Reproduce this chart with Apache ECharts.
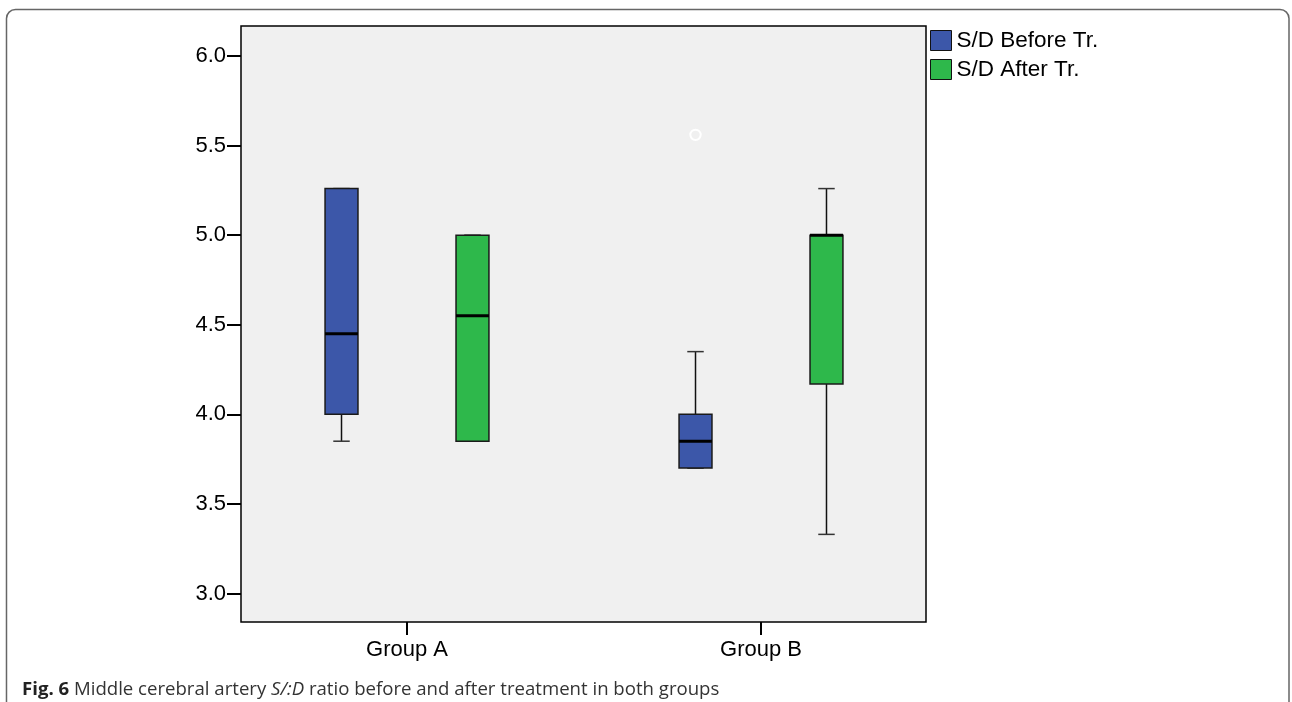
<!DOCTYPE html>
<html>
<head>
<meta charset="utf-8">
<script src="https://cdn.jsdelivr.net/npm/echarts@6/dist/echarts.min.js"></script>
<style>html,body{margin:0;padding:0;background:#fff;}#c{width:1292px;height:702px;}</style>
</head>
<body>
<div id="c"></div>
<script>
// ---- data ----
var categories = ['Group A', 'Group B'];
var seriesNames = ['S/D Before Tr.', 'S/D After Tr.'];
// [min, Q1, median, Q3, max]
var beforeStats = [
  [3.85, 4.00, 4.45, 5.26, 5.26],
  [3.70, 3.70, 3.85, 4.00, 4.35]
];
var afterStats = [
  [3.85, 3.85, 4.55, 5.00, 5.00],
  [3.33, 4.17, 5.00, 5.00, 5.26]
];
// [category index, value]
var beforeOutliers = [[1, 5.56]];
var yMin = 3.0, yMax = 6.0, yStep = 0.5;

// ---- styles ----
var COLORS = ['#3c57a9', '#2eb84b'];
var OFFSETS = [-0.185, 0.185];   // fraction of category band
var BOX_FRAC = 0.093;            // box width fraction of band
var FONT = '"Liberation Sans", Arial, sans-serif';
var CAP_FONT = '"Open Sans", sans-serif';

function toRows(stats) {
  return stats.map(function (s, i) { return [i].concat(s); });
}

function makeBoxRender(k) {
  return function (params, api) {
    var cat = api.value(0);
    var band = api.size([1, 0])[0];
    var w = band * BOX_FRAC;
    var cx = api.coord([cat, api.value(3)])[0] + band * OFFSETS[k];
    var yLo = api.coord([cat, api.value(1)])[1];
    var yQ1 = api.coord([cat, api.value(2)])[1];
    var yMed = api.coord([cat, api.value(3)])[1];
    var yQ3 = api.coord([cat, api.value(4)])[1];
    var yHi = api.coord([cat, api.value(5)])[1];
    var ls = { stroke: '#111', lineWidth: 1.5 };
    var cap = w / 4;
    return {
      type: 'group',
      children: [
        { type: 'line', shape: { x1: cx, y1: yHi, x2: cx, y2: yQ3 }, style: ls },
        { type: 'line', shape: { x1: cx, y1: yQ1, x2: cx, y2: yLo }, style: ls },
        { type: 'line', shape: { x1: cx - cap, y1: yHi, x2: cx + cap, y2: yHi }, style: { stroke: '#333', lineWidth: 1.5 } },
        { type: 'line', shape: { x1: cx - cap, y1: yLo, x2: cx + cap, y2: yLo }, style: { stroke: '#333', lineWidth: 1.5 } },
        { type: 'rect', shape: { x: cx - w / 2, y: yQ3, width: w, height: yQ1 - yQ3 },
          style: { fill: COLORS[k], stroke: '#1a1a1a', lineWidth: 1.5 } },
        { type: 'line', shape: { x1: cx - w / 2, y1: yMed, x2: cx + w / 2, y2: yMed },
          style: { stroke: '#000', lineWidth: 3 } }
      ]
    };
  };
}

function makeOutlierRender(k) {
  return function (params, api) {
    var cat = api.value(0);
    var band = api.size([1, 0])[0];
    var p = api.coord([cat, api.value(1)]);
    return {
      type: 'circle',
      shape: { cx: p[0] + band * OFFSETS[k], cy: p[1], r: 5.2 },
      style: { fill: 'none', stroke: '#ffffff', lineWidth: 2 }
    };
  };
}

var chart = echarts.init(document.getElementById('c'));
chart.setOption({
  animation: false,
  backgroundColor: '#ffffff',
  grid: { left: 230, right: 354, top: 56, bottom: 108.5 },
  xAxis: {
    type: 'category',
    data: categories,
    offset: 28.5,
    axisLine: { show: false },
    axisTick: { show: true, alignWithLabel: true, length: 13, lineStyle: { color: '#000', width: 2 } },
    axisLabel: { color: '#000', fontSize: 22, fontFamily: FONT, margin: 17 },
    splitLine: { show: false }
  },
  yAxis: {
    type: 'value',
    min: yMin, max: yMax, interval: yStep,
    offset: -11,
    axisLine: { show: false },
    axisTick: { show: true, length: 14, lineStyle: { color: '#000', width: 2 } },
    axisLabel: { color: '#000', fontSize: 22, fontFamily: FONT, margin: 15,
      formatter: function (v) { return v.toFixed(1); } },
    splitLine: { show: false }
  },
  legend: {
    orient: 'vertical',
    left: 930, top: 29,
    padding: 0,
    itemWidth: 21, itemHeight: 20, itemGap: 6,
    icon: 'rect',
    itemStyle: { borderColor: '#111', borderWidth: 1 },
    textStyle: { color: '#000', fontSize: 22.5, fontFamily: FONT },
    data: seriesNames
  },
  graphic: [
    { type: 'rect', z: -10, silent: true,
      shape: { x: 6.5, y: 9.5, width: 1282.5, height: 720, r: 9 },
      style: { fill: 'none', stroke: '#666', lineWidth: 1.5 } },
    { type: 'rect', z: -5, silent: true,
      shape: { x: 241, y: 26, width: 685, height: 596 },
      style: { fill: '#f0f0f0', stroke: '#000', lineWidth: 1.5 } },
    { type: 'text', left: 22, top: 680, silent: true,
      style: {
        text: '{b|Fig. 6} Middle cerebral artery {i|S/:D} ratio before and after treatment in both groups',
        font: '18.6px ' + CAP_FONT,
        fill: '#333',
        rich: {
          b: { fontWeight: 'bold', fontSize: 18.6, fontFamily: CAP_FONT, fill: '#222' },
          i: { fontStyle: 'italic', fontSize: 18.6, fontFamily: CAP_FONT, fill: '#333' }
        }
      } }
  ],
  series: [
    { name: seriesNames[0], type: 'custom', z: 3, itemStyle: { color: COLORS[0] },
      renderItem: makeBoxRender(0), encode: { x: 0, y: [1, 2, 3, 4, 5] },
      data: toRows(beforeStats) },
    { name: seriesNames[1], type: 'custom', z: 3, itemStyle: { color: COLORS[1] },
      renderItem: makeBoxRender(1), encode: { x: 0, y: [1, 2, 3, 4, 5] },
      data: toRows(afterStats) },
    { name: seriesNames[0], type: 'custom', z: 4, itemStyle: { color: COLORS[0] },
      renderItem: makeOutlierRender(0), encode: { x: 0, y: 1 },
      data: beforeOutliers }
  ]
});
</script>
</body>
</html>
